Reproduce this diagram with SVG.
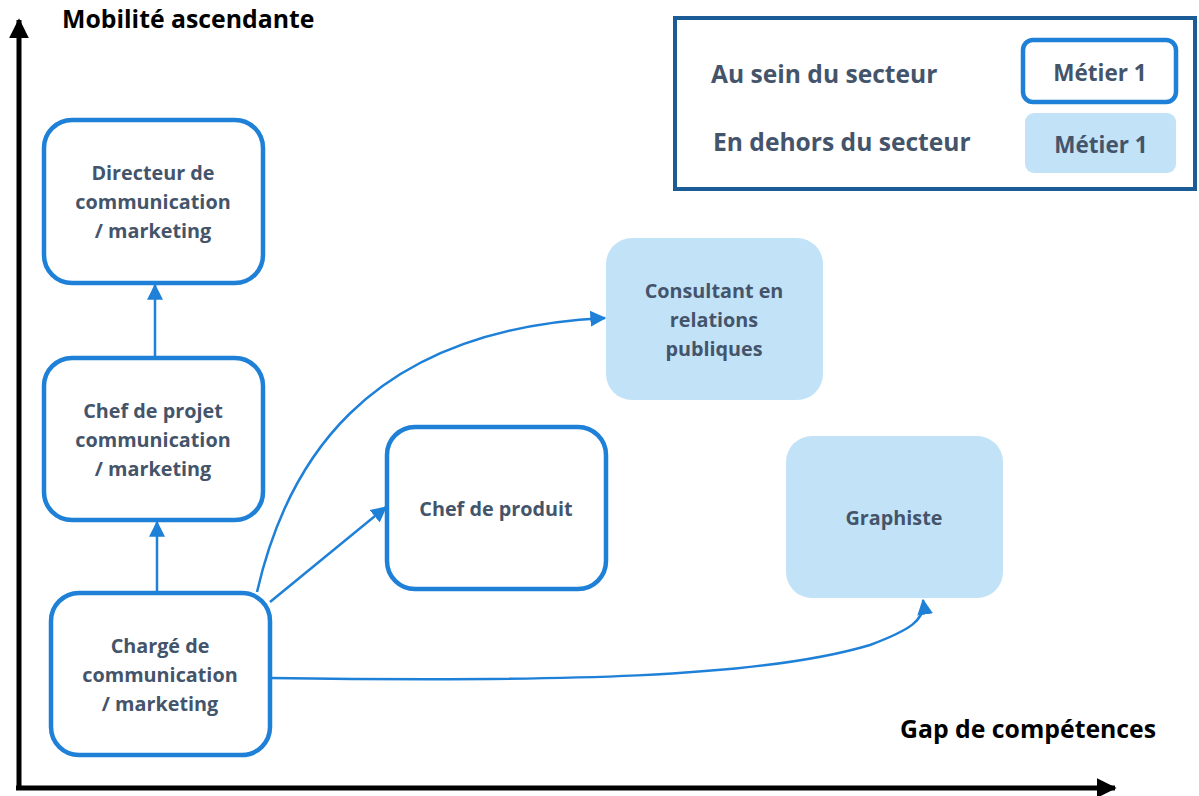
<svg xmlns="http://www.w3.org/2000/svg" width="1199" height="796" viewBox="0 0 1199 796">
<defs>
<style>
.box{fill:#fff;stroke:#1f80d8;stroke-width:4.5}
.fbox{fill:#c2e2f8;stroke:none}
.t{font-family:"Open Sans","Liberation Sans",sans-serif;font-weight:700;font-size:19.8px;fill:#44546a;text-anchor:middle}
.lg{font-family:"Open Sans","Liberation Sans",sans-serif;font-weight:700;font-size:24.6px;fill:#44546a}
.ax{font-family:"Open Sans","Liberation Sans",sans-serif;font-weight:700;font-size:24.8px;fill:#000}
.con{fill:none;stroke:#1f80d8;stroke-width:2.5}
</style>
<marker id="ah" viewBox="0 0 12 12" refX="11" refY="6" markerWidth="16" markerHeight="16" markerUnits="userSpaceOnUse" orient="auto"><path d="M0,0 L12,6 L0,12 Z" fill="#1f80d8"/></marker>
<marker id="ak" viewBox="0 0 12 12" refX="11" refY="6" markerWidth="20" markerHeight="20" markerUnits="userSpaceOnUse" orient="auto"><path d="M0,0 L12,6 L0,12 Z" fill="#000"/></marker>
</defs>
<rect width="1199" height="796" fill="#fff"/>
<g id="axes">
<line x1="19" y1="790" x2="19" y2="20" stroke="#000" stroke-width="5" marker-end="url(#ak)"/>
<line x1="16" y1="788" x2="1115" y2="788" stroke="#000" stroke-width="5" marker-end="url(#ak)"/>
<text class="ax" x="62" y="28">Mobilité ascendante</text>
<text class="ax" x="900" y="738">Gap de compétences</text>
</g>
<g id="legend">
<rect x="675" y="18" width="520" height="171" fill="#fff" stroke="#1b5b96" stroke-width="4"/>
<text class="lg" x="711" y="83">Au sein du secteur</text>
<text class="lg" x="713" y="151">En dehors du secteur</text>
<rect class="box" x="1023" y="40" width="153" height="62" rx="10"/>
<text class="t" x="1100" y="81" style="font-size:22.5px">Métier 1</text>
<rect class="fbox" x="1025" y="113" width="151" height="60" rx="9"/>
<text class="t" x="1101" y="153" style="font-size:22.5px">Métier 1</text>
</g>
<g id="connectors">
<line class="con" x1="155" y1="358" x2="155" y2="285" marker-end="url(#ah)"/>
<line class="con" x1="157" y1="593" x2="157" y2="522" marker-end="url(#ah)"/>
<path class="con" d="M257,592 C285,470 360,330 605,318" marker-end="url(#ah)"/>
<line class="con" x1="270" y1="602" x2="386" y2="507" marker-end="url(#ah)"/>
<path class="con" d="M270,678 C560,682 760,678 870,645 C910,630 926,620 923,600" marker-end="url(#ah)"/>
</g>
<g id="n-directeur">
<rect class="box" x="44" y="120" width="219" height="163" rx="28"/>
<text class="t" x="153" y="180">Directeur de</text>
<text class="t" x="153" y="209">communication</text>
<text class="t" x="153" y="238">/ marketing</text>
</g>
<g id="n-chefprojet">
<rect class="box" x="44" y="358" width="219" height="162" rx="28"/>
<text class="t" x="153" y="418">Chef de projet</text>
<text class="t" x="153" y="447">communication</text>
<text class="t" x="153" y="476">/ marketing</text>
</g>
<g id="n-charge">
<rect class="box" x="51" y="593" width="219" height="162" rx="28"/>
<text class="t" x="160" y="653">Chargé de</text>
<text class="t" x="160" y="682">communication</text>
<text class="t" x="160" y="711">/ marketing</text>
</g>
<g id="n-chefproduit">
<rect class="box" x="387" y="427" width="219" height="162" rx="28"/>
<text class="t" x="496" y="516">Chef de produit</text>
</g>
<g id="n-consultant">
<rect class="fbox" x="606" y="238" width="217" height="162" rx="26"/>
<text class="t" x="714" y="298">Consultant en</text>
<text class="t" x="714" y="327">relations</text>
<text class="t" x="714" y="356">publiques</text>
</g>
<g id="n-graphiste">
<rect class="fbox" x="786" y="436" width="217" height="162" rx="26"/>
<text class="t" x="894" y="525">Graphiste</text>
</g>
</svg>
